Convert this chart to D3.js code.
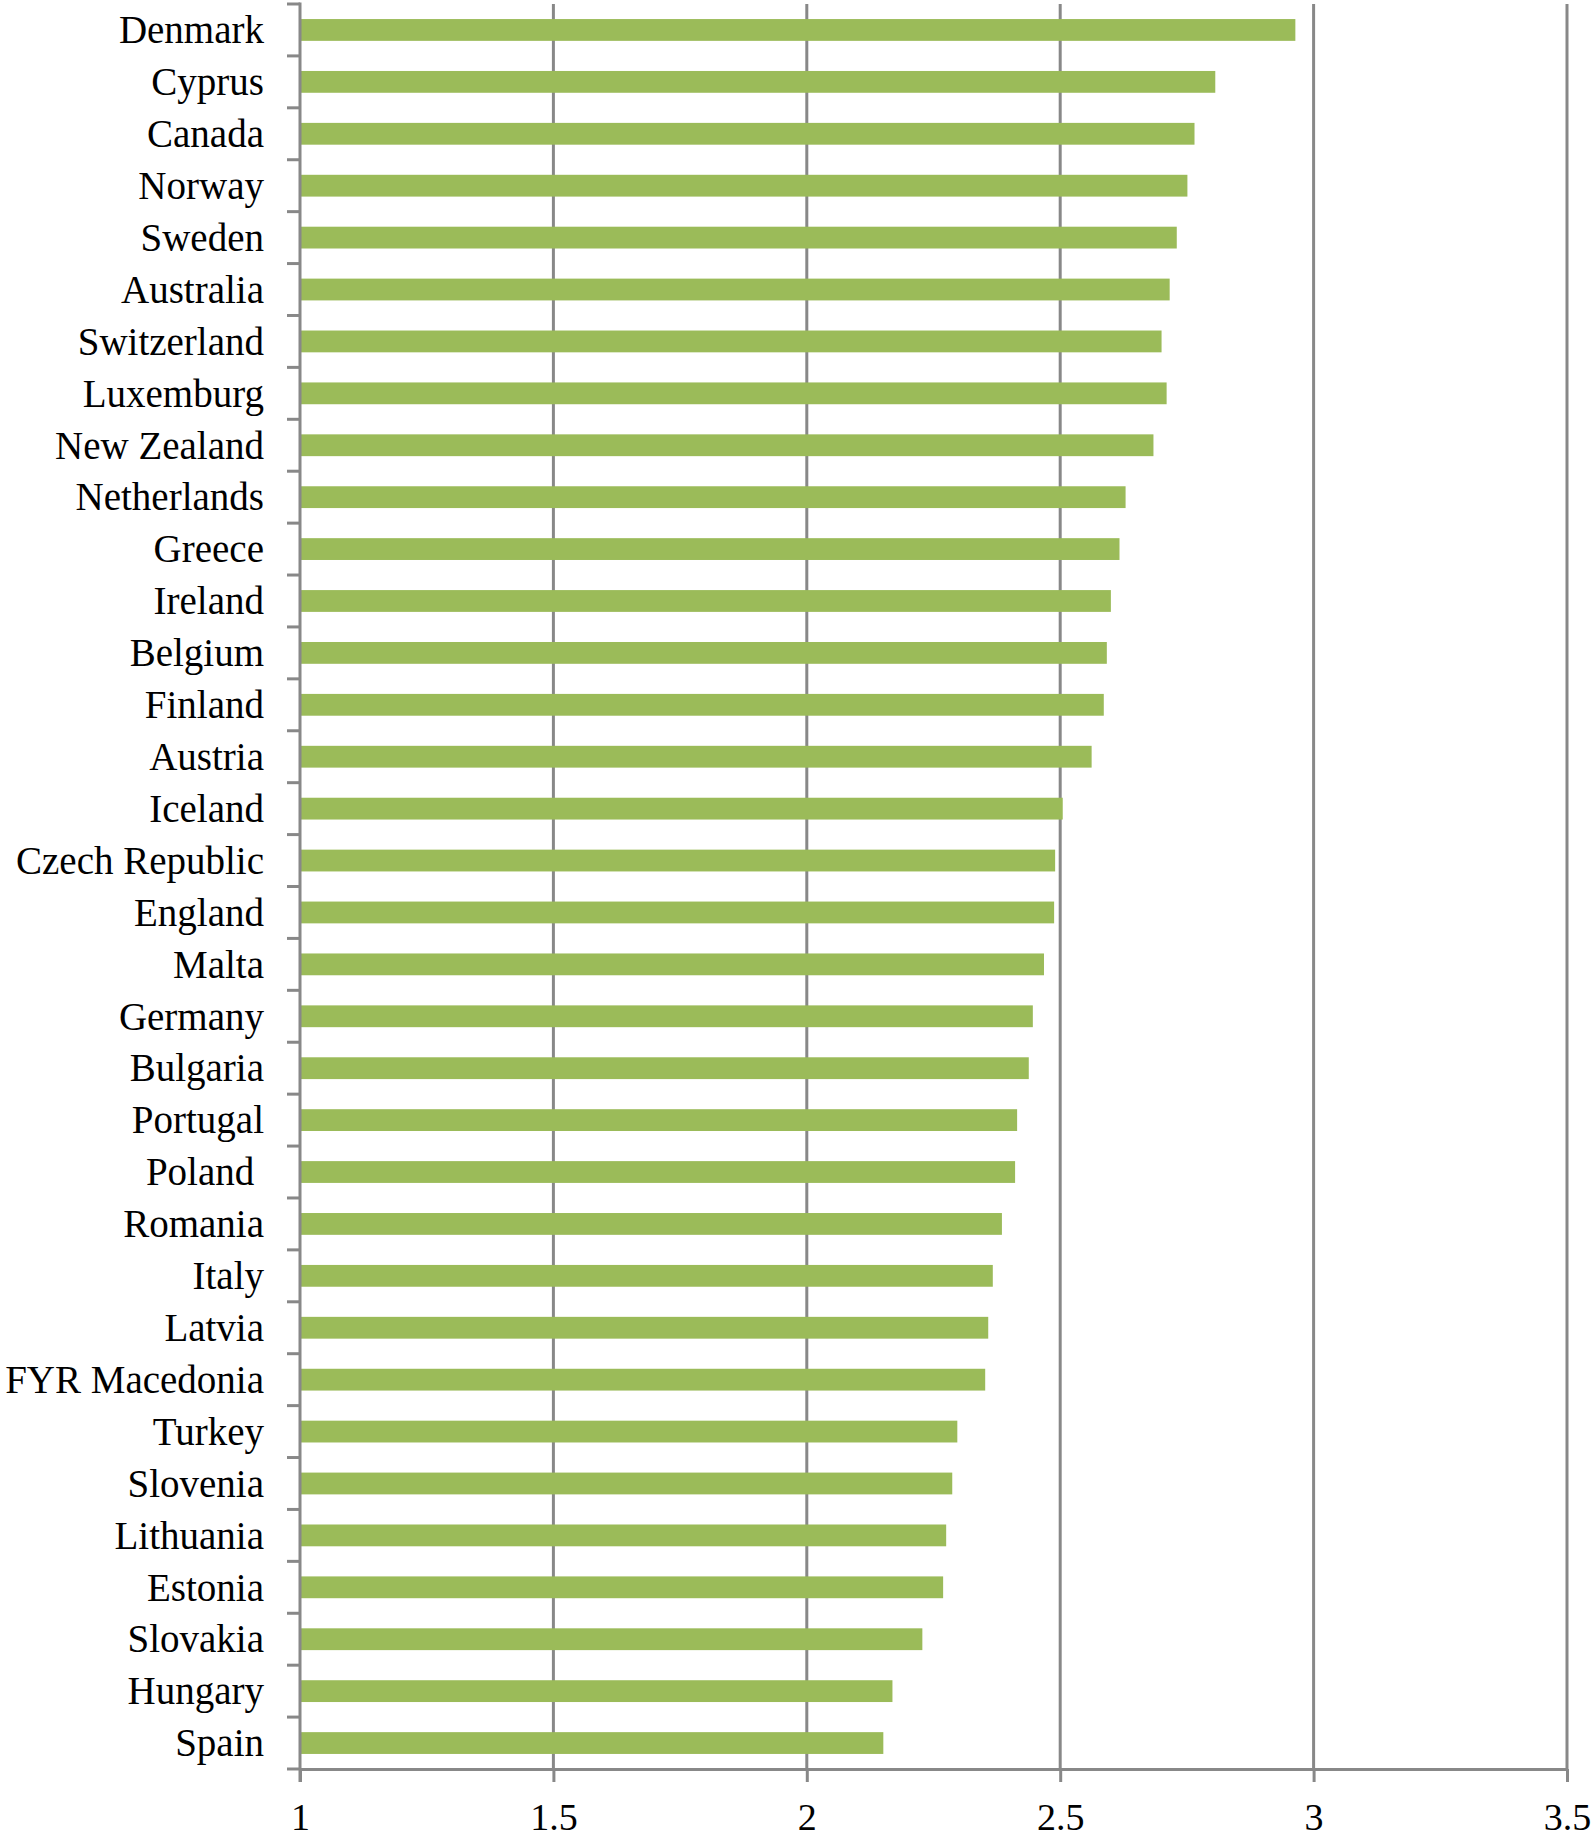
<!DOCTYPE html>
<html>
<head>
<meta charset="utf-8">
<script src="https://cdn.jsdelivr.net/npm/d3@7"></script>
<style>
  body { margin: 0; background: #fff; }
  text { font-family: "Liberation Serif", "DejaVu Serif", serif; fill: #000; }
</style>
</head>
<body>
<div class="content"></div>
<script>
const countries = ['Denmark', 'Cyprus', 'Canada', 'Norway', 'Sweden', 'Australia',
  'Switzerland', 'Luxemburg', 'New Zealand', 'Netherlands', 'Greece', 'Ireland',
  'Belgium', 'Finland', 'Austria', 'Iceland', 'Czech Republic', 'England', 'Malta',
  'Germany', 'Bulgaria', 'Portugal', 'Poland ', 'Romania', 'Italy', 'Latvia',
  'FYR Macedonia', 'Turkey', 'Slovenia', 'Lithuania', 'Estonia', 'Slovakia',
  'Hungary', 'Spain'];
const scores = [2.964, 2.806, 2.765, 2.751, 2.730, 2.716,
  2.700, 2.710, 2.684, 2.629, 2.617, 2.600,
  2.592, 2.586, 2.562, 2.505, 2.490, 2.488, 2.468,
  2.446, 2.438, 2.415, 2.411, 2.385, 2.367, 2.358,
  2.352, 2.297, 2.287, 2.275, 2.269, 2.228,
  2.169, 2.151];
const xTicks = [1, 1.5, 2, 2.5, 3, 3.5];

const [svgWidth, svgHeight] = [1592, 1840];
const margin = {top: 4, right: 25, bottom: 71, left: 300};
const gray = '#888888';
const svg = d3.select('.content')
  .append('svg')
  .attr('width', svgWidth)
  .attr('height', svgHeight);

const x = d3.scaleLinear()
  .domain([1, 3.5])
  .range([margin.left, svgWidth - margin.right]);
const y = d3.scaleBand()
  .domain(countries)
  .range([margin.top, svgHeight - margin.bottom])
  .paddingInner(0.58)
  .paddingOuter(0.29);

// vertical gridlines
svg.append('g')
  .selectAll('line')
  .data(xTicks.slice(1))
  .enter()
  .append('line')
  .attr('x1', d => x(d))
  .attr('x2', d => x(d))
  .attr('y1', margin.top)
  .attr('y2', svgHeight - margin.bottom)
  .attr('stroke', gray)
  .attr('stroke-width', 3);

// bars
svg.append('g')
  .selectAll('rect')
  .data(countries)
  .enter()
  .append('rect')
  .attr('x', x(1))
  .attr('y', d => y(d))
  .attr('width', (d, i) => x(scores[i]) - x(1))
  .attr('height', y.bandwidth())
  .attr('fill', '#9bbb59');

// x axis
const xAxis = svg.append('g')
  .attr('transform', `translate(0, ${svgHeight - margin.bottom})`)
  .call(d3.axisBottom(x)
    .tickValues(xTicks)
    .tickFormat(d3.format('~g'))
    .tickSizeInner(13)
    .tickSizeOuter(0)
    .tickPadding(21));
xAxis.select('.domain').attr('stroke', gray).attr('stroke-width', 3);
xAxis.selectAll('.tick line').attr('stroke', gray).attr('stroke-width', 3);
xAxis.selectAll('text').attr('font-size', 38).attr('fill', '#000')
  .style('font-family', '"Liberation Serif", serif');

// y axis: labels
const yAxis = svg.append('g')
  .attr('transform', `translate(${margin.left}, 0)`)
  .call(d3.axisLeft(y).tickSize(0).tickPadding(36));
yAxis.select('.domain').remove();
yAxis.selectAll('text').attr('font-size', 39).attr('fill', '#000')
  .attr('dy', '0.34em')
  .attr('xml:space', 'preserve')
  .style('font-family', '"Liberation Serif", serif');

// y axis line and ticks at category boundaries
const step = y.step();
const bounds = d3.range(countries.length + 1).map(i => margin.top + i * step);
svg.append('g')
  .selectAll('line')
  .data(bounds)
  .enter()
  .append('line')
  .attr('x1', margin.left - 13)
  .attr('x2', margin.left)
  .attr('y1', d => d)
  .attr('y2', d => d)
  .attr('stroke', gray)
  .attr('stroke-width', 3);
svg.append('line')
  .attr('x1', margin.left)
  .attr('x2', margin.left)
  .attr('y1', margin.top - 1.5)
  .attr('y2', svgHeight - margin.bottom + 13)
  .attr('stroke', gray)
  .attr('stroke-width', 3);
</script>
</body>
</html>
